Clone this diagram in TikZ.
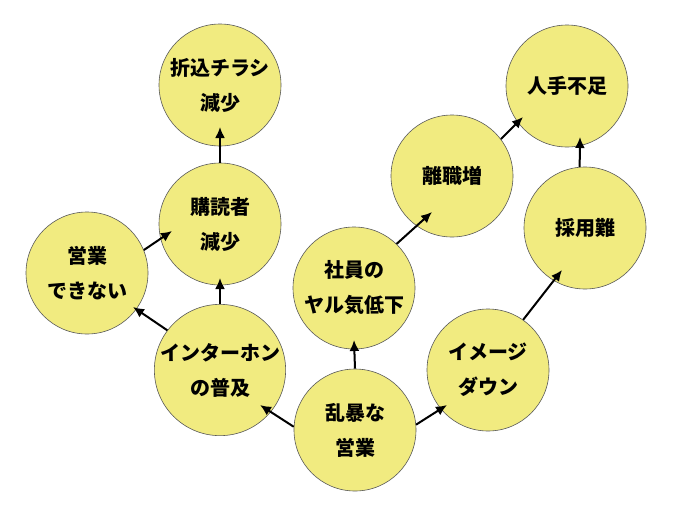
\documentclass[tikz,border=0pt]{standalone}
\usepackage{fontspec}
\setmainfont{Noto Sans CJK JP}
\usetikzlibrary{arrows.meta}
\definecolor{bubble}{RGB}{241,235,128}
\tikzset{
    issue/.style={circle, draw=gray!70!black, line width=0.6pt, fill=bubble, minimum size=122pt, inner sep=0pt, align=center, font=\fontsize{20}{35}\selectfont\bfseries},
    cause/.style={-{Latex[length=11pt,width=10pt]}, line width=2pt}
}
\begin{document}
\begin{tikzpicture}[x=1pt, y=-1pt]
            %\draw[lightgray, step=50] (0, 0) grid (680, 525);
            \useasboundingbox[fill=white] (0, 0) rectangle (680, 525);
            \node[issue] (flyer) at (220, 85) {折込チラシ\\減少};
            \node[issue] (readers) at (220, 224) {購読者\\減少};
            \node[issue] (cantsell) at (87, 273) {営業\\できない};
            \node[issue] (intercom) at (220, 370) {インターホン\\の普及};
            \node[issue] (rough) at (355, 430) {乱暴な\\営業};
            \node[issue] (morale) at (354, 288) {社員の\\ヤル気低下};
            \node[issue] (quit) at (452, 176) {離職増};
            \node[issue] (image) at (488, 370) {イメージ\\ダウン};
            \node[issue] (hiring) at (585, 228) {採用難};
            \node[issue] (shortage) at (567, 86) {人手不足};
            \draw[cause] (readers.90) -- ([shift={(0, 42)}]flyer.center);
            \draw[cause] (cantsell.22) -- ([shift={(-48, 7)}]readers.center);
            \draw[cause] (intercom.143) -- ([shift={(46, 34)}]cantsell.center);
            \draw[cause] (intercom.90) -- ([shift={(0, 54)}]readers.center);
            \draw[cause] (rough.177) -- ([shift={(40, 35)}]intercom.center);
            \draw[cause] (rough.90) -- ([shift={(0, 52)}]morale.center);
            \draw[cause] (rough.5) -- ([shift={(-41, 35)}]image.center);
            \draw[cause] (morale.46) -- ([shift={(-20, 36)}]quit.center);
            \draw[cause] (image.55) -- ([shift={(-23, 42)}]hiring.center);
            \draw[cause] (quit.37) -- ([shift={(-44, 31)}]shortage.center);
            \draw[cause] (hiring.95) -- ([shift={(13, 51)}]shortage.center);
        \end{tikzpicture}
\end{document}
